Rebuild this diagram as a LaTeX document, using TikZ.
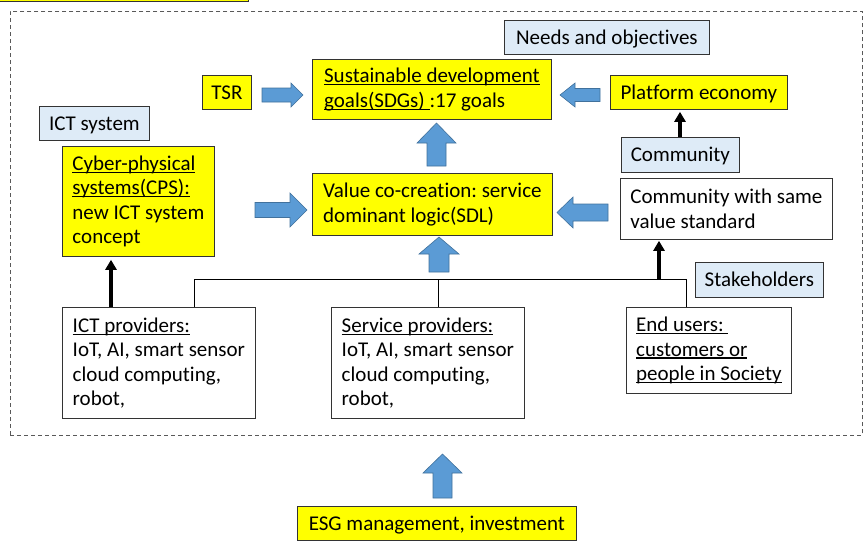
\documentclass[tikz,border=0pt]{standalone}
\usepackage{fontspec}
\setmainfont{Carlito}[Ligatures={NoCommon}]
\frenchspacing
\usetikzlibrary{arrows.meta}
\definecolor{lightblue}{HTML}{DEEBF7}
\definecolor{arrowblue}{HTML}{5B9BD5}
\definecolor{arrowedge}{HTML}{41719C}
\definecolor{boxyellow}{HTML}{FFFF00}
\newcommand\mainsz{\fontsize{21}{24.5}\selectfont}
\newsavebox\ulbox
\newcommand\uln[1]{\sbox\ulbox{#1}\rlap{\rule[-2.6pt]{\wd\ulbox}{1.2pt}}\usebox\ulbox}
\newcommand\blockarrow[8]{%
  \coordinate (#1) at (#2,#3);
  \begin{scope}[shift={(#1)}, rotate=#4]
    \draw[barrow] ({-#5/2},{-#6/2}) -- ({#5/2-#8},{-#6/2}) -- ({#5/2-#8},{-#7/2}) -- ({#5/2},0)
      -- ({#5/2-#8},{#7/2}) -- ({#5/2-#8},{#6/2}) -- ({-#5/2},{#6/2}) -- cycle;
  \end{scope}}
\tikzset{
  basebox/.style={draw=black!80, line width=0.8pt, align=left, inner sep=2pt, anchor=north west, font=\mainsz},
  ybox/.style={basebox, fill=boxyellow},
  bbox/.style={basebox, fill=lightblue},
  wbox/.style={basebox, fill=white},
  oneline/.style={text height=13.5pt, text depth=0pt},
  barrow/.style={fill=arrowblue, draw=arrowedge, line width=0.6pt},
  thickarr/.style={line width=3.5pt, -{Triangle[width=11pt,length=10pt]}},
  bus/.style={line width=0.8pt},
  framebox/.style={draw=black!65, line width=0.9pt, dash pattern=on 4pt off 3pt, anchor=north west, inner sep=0pt}
}
\begin{document}
\begin{tikzpicture}[x=1pt, y=-1pt]
\useasboundingbox (0,0) rectangle (865,541);
% dashed frame
\node[framebox, minimum width=852, minimum height=424] (frame) at (10,11) {};
% cut-off title box
\node[ybox, minimum width=260, minimum height=40, anchor=south east] (title) at (249,2) {};
% boxes
\node[ybox, oneline, minimum width=49, minimum height=34] (tsr) at (202,75) {TSR};
\node[ybox, minimum width=239, minimum height=60] (sdg) at (312,59) {\uln{Sustainable development}\\\uln{goals(SDGs) }:17 goals};
\node[bbox, oneline, minimum width=205, minimum height=34] (needs) at (504,20) {Needs and objectives};
\node[ybox, oneline, minimum width=177, minimum height=34] (plat) at (610,75) {Platform economy};
\node[bbox, oneline, minimum width=110, minimum height=34] (ictsys) at (39,106) {ICT system};
\node[ybox, minimum width=152, minimum height=110] (cps) at (62,146) {\uln{Cyber-physical}\\\uln{systems(CPS):}\\new ICT system\\concept};
\node[ybox, minimum width=240, minimum height=62] (val) at (312,173) {Value co-creation: service\\dominant logic(SDL)};
\node[bbox, oneline, minimum width=118, minimum height=35] (comm) at (621,137) {Community};
\node[wbox, minimum width=212, minimum height=61] (cws) at (620,178) {Community with same\\value standard};
\node[bbox, oneline, minimum width=128, minimum height=35] (stake) at (695,262) {Stakeholders};
\node[wbox, minimum width=193, minimum height=111] (ictp) at (62,307) {\uln{ICT providers:}\\IoT, AI, smart sensor\\cloud computing,\\robot,};
\node[wbox, minimum width=193, minimum height=111] (svc) at (331,307) {\uln{Service providers:}\\IoT, AI, smart sensor\\cloud computing,\\robot,};
\node[wbox, minimum width=165, minimum height=86] (eu) at (626,307) {\uln{End users: }\\\uln{customers or}\\\uln{people in Society}};
\node[ybox, oneline, minimum width=279, minimum height=34] (esg) at (297,506) {ESG management, investment};
% bus connector
\coordinate (bL) at (194,279);
\coordinate (bR) at (686,279);
\coordinate (bS) at (438,279);
\draw[bus] (bL |- ictp.north) -- (bL) -- (bR) -- (bR |- eu.north);
\draw[bus] (bS) -- (bS |- svc.north);
% thick black arrows
\coordinate (ax1) at (111,290);
\draw[thickarr, shorten >=3pt] (ax1 |- ictp.north) -- (ax1 |- cps.south);
\coordinate (ax2) at (659,279);
\draw[thickarr, shorten >=1pt] (ax2) -- (ax2 |- cws.south);
\coordinate (ax3) at (680,120);
\draw[thickarr, shorten >=2pt] (ax3 |- comm.north) -- (ax3 |- plat.south);
% blue block arrows
\blockarrow{a1}{282.5}{95}{0}{41}{14}{24}{12}
\blockarrow{a2}{580}{95}{180}{40}{13}{24}{15}
\blockarrow{a3}{436.5}{144.5}{90}{43}{19}{39}{20}
\blockarrow{a4}{281}{210}{0}{52}{15}{34}{17}
\blockarrow{a5}{582.5}{212.5}{180}{51}{17}{31}{16}
\blockarrow{a6}{439}{254.5}{90}{35}{20}{40}{17}
\blockarrow{a7}{442.5}{476}{90}{44}{19}{39}{19}
\end{tikzpicture}
\end{document}
